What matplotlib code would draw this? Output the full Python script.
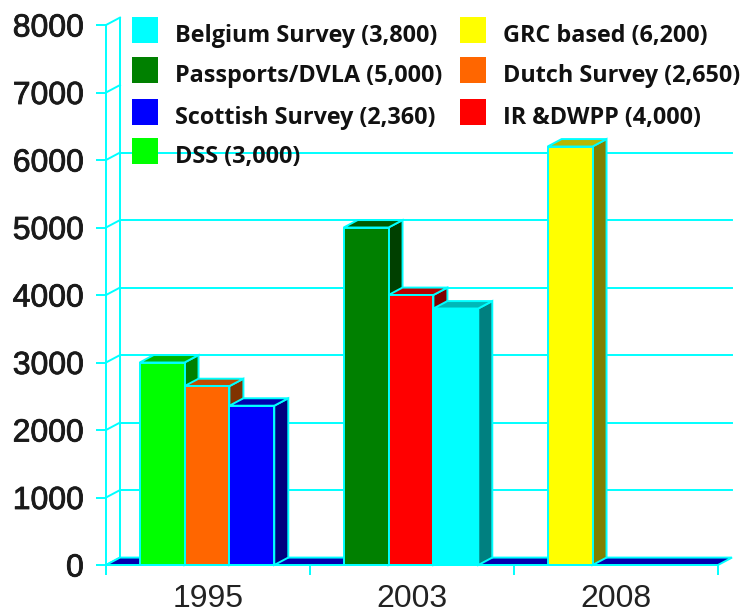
import matplotlib.pyplot as plt
import matplotlib.patheffects as pe
from matplotlib.patches import Polygon, Rectangle

years = ["1995", "2003", "2008"]
yticks = [0, 1000, 2000, 3000, 4000, 5000, 6000, 7000, 8000]

series_names = ["Belgium Survey (3,800)", "Passports/DVLA (5,000)", "Scottish Survey (2,360)",
                "DSS (3,000)", "GRC based (6,200)", "Dutch Survey (2,650)", "IR &DWPP (4,000)"]
series_values = [3800, 5000, 2360, 3000, 6200, 2650, 4000]
series_year = [1, 1, 0, 0, 2, 0, 1]
series_slot = [2, 0, 2, 0, 0, 1, 1]
front_colors = ["#00FFFF", "#008000", "#0000FF", "#00FF00", "#FFFF00", "#FF6600", "#FF0000"]
top_colors = ["#00B8B8", "#005C00", "#0000B0", "#00B400", "#B8B800", "#C04C00", "#B80000"]
side_colors = ["#008080", "#004000", "#000080", "#008000", "#808000", "#803300", "#800000"]

edge = "#00FFFF"
lw = 1.4
txt = "#1a1a1a"

fig = plt.figure(figsize=(7.42, 6.13), dpi=100)
ax = fig.add_axes([106 / 742, 48 / 613, 612 / 742, 540 / 613])
ax.set_xlim(0, 3)
ax.set_ylim(0, 8000)
for s in ax.spines.values():
    s.set_visible(False)

# depth of the fake 3d
dx = 14 / 204
dy = 110
w = 0.22
offsets = [-0.225, -0.005, 0.215]

# walls and grid
ax.plot([0, 0], [0, 8000], color=edge, lw=lw, clip_on=False, zorder=2)
ax.plot([dx, dx], [dy, 8000 + dy], color=edge, lw=lw, clip_on=False, zorder=1)
for v in yticks:
    ax.plot([0, dx], [v, v + dy], color=edge, lw=lw, clip_on=False, zorder=1)
for v in yticks[1:7]:
    ax.plot([dx, 3 + dx], [v + dy, v + dy], color=edge, lw=lw, clip_on=False, zorder=1)

floor = Polygon([(0, 0), (3, 0), (3 + dx, dy), (dx, dy)], closed=True,
                facecolor="#0000B0", edgecolor=edge, lw=lw, clip_on=False, zorder=2)
ax.add_patch(floor)

# bars, left to right
order = sorted(range(len(series_values)), key=lambda i: (series_year[i], series_slot[i]))
z = 3
for i in order:
    x0 = series_year[i] + 0.5 + offsets[series_slot[i]] - w / 2
    x1 = x0 + w
    h = series_values[i]
    side = Polygon([(x1, 0), (x1 + dx, dy), (x1 + dx, h + dy), (x1, h)], closed=True,
                   facecolor=side_colors[i], edgecolor=edge, lw=lw, clip_on=False, zorder=z)
    top = Polygon([(x0, h), (x1, h), (x1 + dx, h + dy), (x0 + dx, h + dy)], closed=True,
                  facecolor=top_colors[i], edgecolor=edge, lw=lw, clip_on=False, zorder=z)
    front = Rectangle((x0, 0), w, h, facecolor=front_colors[i], edgecolor=edge, lw=lw,
                      clip_on=False, zorder=z + 0.5)
    ax.add_patch(side)
    ax.add_patch(top)
    ax.add_patch(front)
    z += 1

ax.plot([0, 3], [0, 0], color=edge, lw=lw, clip_on=False, zorder=z)

# ticks
thick = [pe.withStroke(linewidth=0.6, foreground=txt)]
ax.set_yticks(yticks)
ax.set_yticklabels([str(v) for v in yticks], fontsize=23, color=txt, family="Liberation Sans",
                   path_effects=thick)
ax.tick_params(axis="y", length=7, width=lw, color=edge, pad=9)
ax.set_xticks([0.5, 1.5, 2.5])
ax.set_xticklabels(years, fontsize=23, color="#222222", family="Liberation Sans")
ax.set_xticks([0, 1, 2, 3], minor=True)
ax.tick_params(axis="x", which="major", length=0, pad=14)
ax.tick_params(axis="x", which="minor", length=7, width=lw, color=edge)

# legend, two columns
col_marker_x = [132, 460]
col_text_x = [175, 503]
baselines = [42, 82, 124, 163]
for k, name in enumerate(series_names):
    col = 0 if k < 4 else 1
    row = k if k < 4 else k - 4
    b = baselines[row]
    fig.add_artist(Rectangle((col_marker_x[col] / 742, 1 - (b + 1) / 613), 26 / 742, 26 / 613,
                             transform=fig.transFigure, facecolor=front_colors[k], edgecolor="none"))
    fig.text(col_text_x[col] / 742, 1 - b / 613, name, fontsize=16.8, fontweight="bold",
             family="Open Sans", color="#111111", va="baseline", ha="left")

fig.savefig("out.png", dpi=100)
